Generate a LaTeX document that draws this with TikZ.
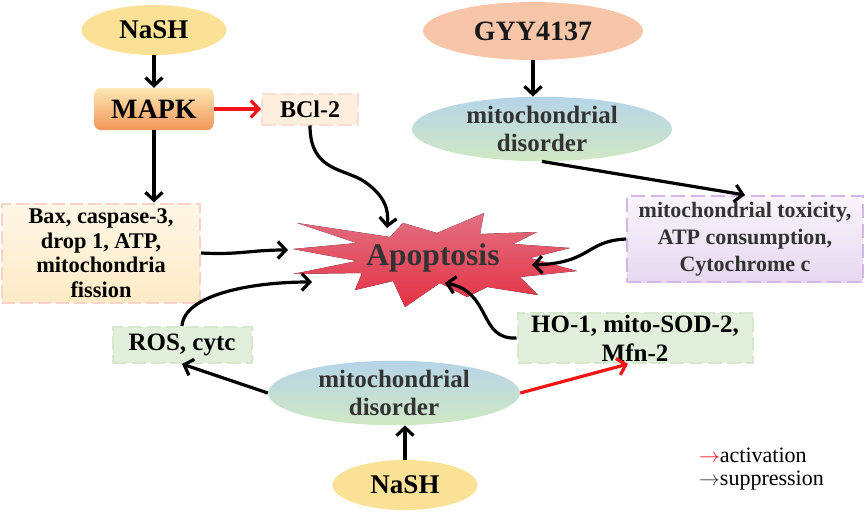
\documentclass[tikz,border=0pt]{standalone}
\usepackage{fontspec}
\setmainfont{Liberation Serif}
\usetikzlibrary{arrows.meta, shapes.geometric}

\definecolor{nashfill}{RGB}{250,225,150}
\definecolor{mapktop}{RGB}{253,232,180}
\definecolor{mapkbot}{RGB}{240,150,90}
\definecolor{bclfill}{RGB}{253,238,222}
\definecolor{bcldraw}{RGB}{250,222,210}
\definecolor{baxtop}{RGB}{255,247,230}
\definecolor{baxbot}{RGB}{253,235,198}
\definecolor{baxdraw}{RGB}{248,212,200}
\definecolor{gyyfill}{RGB}{247,198,168}
\definecolor{mitotop}{RGB}{182,212,232}
\definecolor{mitobot}{RGB}{208,232,196}
\definecolor{toxtop}{RGB}{249,244,251}
\definecolor{toxbot}{RGB}{230,216,240}
\definecolor{toxdraw}{RGB}{212,182,230}
\definecolor{greenfill}{RGB}{226,239,218}
\definecolor{greendraw}{RGB}{214,232,204}
\definecolor{startop}{RGB}{226,112,130}
\definecolor{starbot}{RGB}{228,50,68}
\definecolor{textgray}{RGB}{51,51,51}
\definecolor{actred}{RGB}{240,20,20}

\begin{document}
\begin{tikzpicture}[x=1pt, y=-1pt,
  every node/.style={font=\bfseries, align=center, inner sep=0pt},
  conn/.style={line width=3.2pt, -{Straight Barb[length=8pt, width=17pt]}},
  act/.style={conn, draw=actred},
  nashell/.style={ellipse, fill=nashfill, minimum width=145pt, minimum height=50pt, font=\bfseries\fontsize{27}{30}\selectfont},
  mitoell/.style={ellipse, top color=mitotop, bottom color=mitobot, text=textgray, font=\bfseries\fontsize{25}{28}\selectfont},
  greenbox/.style={rectangle, fill=greenfill, draw=greendraw, line width=2pt, dash pattern=on 14pt off 5pt, font=\bfseries\fontsize{25}{29}\selectfont}]

\useasboundingbox (0,0) rectangle (865,512);

  % Apoptosis star
  \fill[top color=startop, bottom color=starbot] (293,249) -- (357,243) -- (297,223) -- (390,237) -- (403,223) -- (437,233) -- (484,213) -- (480,234) -- (537,232) -- (513,244) -- (570,248) -- (530,258) -- (577,271) -- (520,277) -- (538,295) -- (487,287) -- (467,297) -- (440,283) -- (405,307) -- (393,281) -- (355,290) -- (362,273) -- (293,274) -- (357,261) -- cycle;
  \coordinate (apopBcl) at (387,228);
  \coordinate (apopBax) at (288,250);
  \coordinate (apopRos) at (312,282);
  \coordinate (apopTox) at (532,265);
  \coordinate (apopHo) at (445,283);

  % Nodes
  \node (apop) [text=textgray, font=\bfseries\fontsize{31.5}{34}\selectfont] at (433,258) {Apoptosis};
  \node (nashTop) [nashell] at (154,30) {NaSH};
  \node (mapk) [rectangle, rounded corners=6pt, top color=mapktop, bottom color=mapkbot, minimum width=119pt, minimum height=42pt, font=\bfseries\fontsize{28}{30}\selectfont] at (154,109) {MAPK};
  \node (bcl) [rectangle, fill=bclfill, draw=bcldraw, line width=2pt, dash pattern=on 14pt off 5pt, minimum width=96pt, minimum height=31pt, font=\bfseries\fontsize{24}{26}\selectfont] at (310,109) {BCl-2};
  \node (bax) [rectangle, top color=baxtop, bottom color=baxbot, draw=baxdraw, line width=2pt, dash pattern=on 13pt off 5pt, minimum width=198pt, minimum height=99pt, font=\bfseries\fontsize{22.4}{24.5}\selectfont] at (101,253) {Bax, caspase-3,\\drop 1, ATP,\\mitochondria\\fission};
  \node (gyy) [ellipse, fill=gyyfill, minimum width=220pt, minimum height=58pt, text=black!90, font=\bfseries\fontsize{28}{30}\selectfont] at (533,31) {GYY4137};
  \node (mitoTop) [mitoell, minimum width=260pt, minimum height=55pt] at (542,129) {mitochondrial\\disorder};
  \node (tox) [rectangle, top color=toxtop, bottom color=toxbot, draw=toxdraw, line width=2pt, dash pattern=on 14pt off 6pt, minimum width=236pt, minimum height=86pt, text=textgray, font=\bfseries\fontsize{22}{27}\selectfont] at (745,239) {mitochondrial toxicity,\\ATP consumption,\\Cytochrome c};
  \node (ros) [greenbox, minimum width=139pt, minimum height=36pt] at (182,345) {ROS, cytc};
  \node (mitoBot) [mitoell, minimum width=252pt, minimum height=53pt] at (394,393) {mitochondrial\\disorder};
  \node (ho) [greenbox, minimum width=235pt, minimum height=50pt] at (635,338) {HO-1, mito-SOD-2,\\Mfn-2};
  \node (nashBot) [nashell] at (405,485) {NaSH};

  % Legend
  \node (legAct) [anchor=west, font=\fontsize{22}{24}\selectfont] at (699,455) {\textcolor{actred}{$\rightarrow$}activation};
  \node (legSup) [anchor=west, font=\fontsize{22}{24}\selectfont] at (699,481) {\textcolor{textgray}{$\rightarrow$}suppression};

  % Arrows
  \draw[conn] (nashTop) -- (mapk);
  \draw[act] (mapk) -- (bcl);
  \draw[conn] (mapk.south) -- (mapk.south |- bax.north);
  \draw[conn] (bcl.south) .. controls (310,172) and (345,168) .. (365,182) .. controls (385,196) and (389,210) .. (apopBcl);
  \draw[conn] (bax.east) .. controls (240,255) and (250,250) .. (apopBax);
  \draw[conn] (gyy.south) -- (gyy.south |- mitoTop.north);
  \draw[conn] (mitoTop.south) -- (tox.north);
  \draw[conn] (tox.west) .. controls (585,241) and (592,263) .. (apopTox);
  \draw[conn] (ros.north) .. controls (184,295) and (250,282) .. (apopRos);
  \draw[conn] (ho.west) .. controls (478,340) and (492,292) .. (apopHo);
  \draw[conn] (mitoBot.west) -- (ros.south);
  \draw[act] (mitoBot.east) -- ([xshift=-7pt]ho.south);
  \draw[conn] (nashBot.north) -- (nashBot.north |- mitoBot.south);

\end{tikzpicture}
\end{document}
